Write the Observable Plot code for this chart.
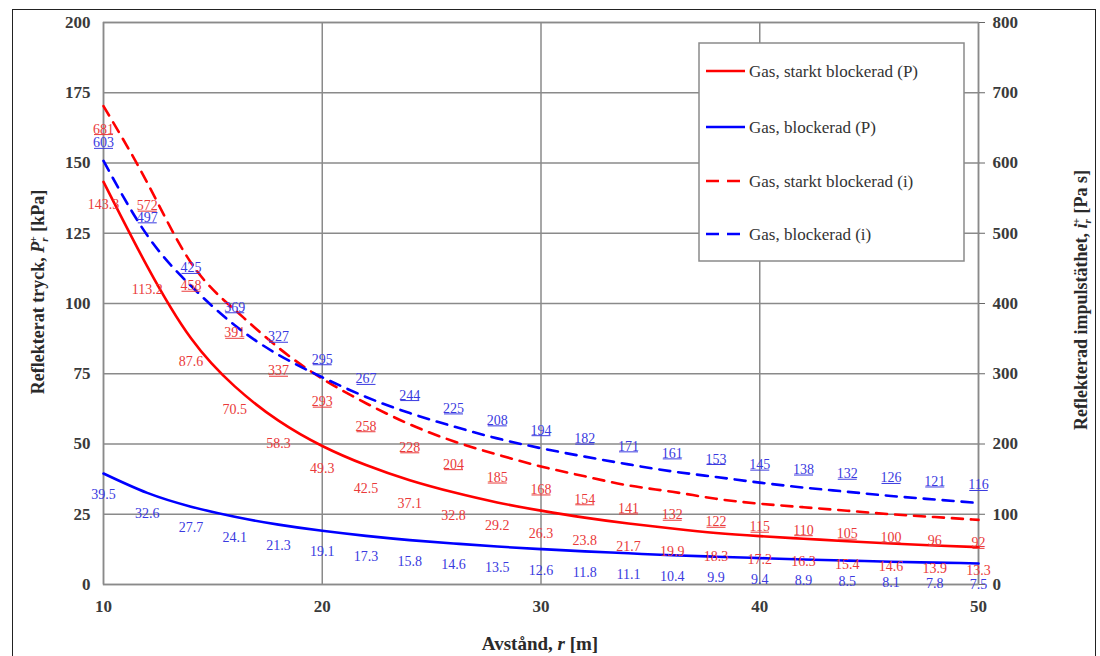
<!DOCTYPE html>
<html>
<head>
<meta charset="utf-8">
<script src="https://cdn.jsdelivr.net/npm/d3@7"></script>
<script src="https://cdn.jsdelivr.net/npm/@observablehq/plot@0.6"></script>
<style>
  html, body { margin: 0; padding: 0; background: #fff; }
  #wrap { position: relative; width: 1100px; height: 656px; overflow: hidden; }
  #border { position: absolute; left: 12px; top: 9px; width: 1084px; height: 660px; border: 1.5px solid #222; box-sizing: border-box; pointer-events: none; }
  svg { position: absolute; left: 0; top: 0; }
  svg text { font-family: 'Liberation Serif', 'Times New Roman', serif !important; }
</style>
</head>
<body>
<div id="wrap"><div id="border"></div></div>
<script>
// Distance r [m]
const distance = [10, 12, 14, 16, 18, 20, 22, 24, 26, 28, 30, 32, 34, 36, 38, 40, 42, 44, 46, 48, 50];
// Reflected pressure [kPa]
const pStrong = [143.3, 113.2, 87.6, 70.5, 58.3, 49.3, 42.5, 37.1, 32.8, 29.2, 26.3, 23.8, 21.7, 19.9, 18.3, 17.2, 16.3, 15.4, 14.6, 13.9, 13.3];
const pBlock  = [39.5, 32.6, 27.7, 24.1, 21.3, 19.1, 17.3, 15.8, 14.6, 13.5, 12.6, 11.8, 11.1, 10.4, 9.9, 9.4, 8.9, 8.5, 8.1, 7.8, 7.5];
// Reflected impulse density [Pa s]
const iStrong = [681, 572, 458, 391, 337, 293, 258, 228, 204, 185, 168, 154, 141, 132, 122, 115, 110, 105, 100, 96, 92];
const iBlock  = [603, 497, 425, 369, 327, 295, 267, 244, 225, 208, 194, 182, 171, 161, 153, 145, 138, 132, 126, 121, 116];
// Axis ticks
const xTicks = [10, 20, 30, 40, 50];
const yLeftTicks = [0, 25, 50, 75, 100, 125, 150, 175, 200];
const yRightTicks = [0, 100, 200, 300, 400, 500, 600, 700, 800];
const legendLabels = ["Gas, starkt blockerad (P)", "Gas, blockerad (P)", "Gas, starkt blockerad (i)", "Gas, blockerad (i)"];

const ratio = 4; // right axis (800) / left axis (200)
const rows = distance.map((r, k) => ({r, pS: pStrong[k], pB: pBlock[k], iS: iStrong[k], iB: iBlock[k]}));

const RED = "#ff0000", BLUE = "#0000ff";
const RED_T = "#ea3a3a", BLUE_T = "#3a3ae0";
const serif = "'Liberation Serif', 'Times New Roman', serif";

const chart = Plot.plot({
  width: 1100,
  height: 656,
  marginLeft: 103,
  marginRight: 122,
  marginTop: 22,
  marginBottom: 72,
  style: {fontFamily: serif, fontSize: "16px", background: "transparent", overflow: "visible"},
  x: {domain: [10, 50]},
  y: {domain: [0, 200]},
  marks: [
    Plot.gridY(yLeftTicks, {stroke: "#8a8a8a", strokeOpacity: 1, strokeWidth: 1.5}),
    Plot.gridX(xTicks, {stroke: "#8a8a8a", strokeOpacity: 1, strokeWidth: 1.5}),
    Plot.frame({stroke: "#8a8a8a", strokeWidth: 1.5}),
    Plot.axisY(yLeftTicks, {anchor: "left", tickSize: 0, tickPadding: 13, label: null, fill: "#3a3a3a", fontWeight: "bold", fontSize: 17}),
    Plot.axisY(yLeftTicks, {anchor: "right", tickSize: 6, tickPadding: 8, label: null, stroke: "#666", fill: "#3a3a3a", fontWeight: "bold", fontSize: 17, tickFormat: (d, k) => String(yRightTicks[k])}),
    Plot.axisX(xTicks, {anchor: "bottom", tickSize: 0, tickPadding: 15, label: null, fill: "#3a3a3a", fontWeight: "bold", fontSize: 17}),
    Plot.line(rows, {x: "r", y: "pS", stroke: RED, strokeWidth: 2.6, curve: "natural"}),
    Plot.line(rows, {x: "r", y: "pB", stroke: BLUE, strokeWidth: 2.6, curve: "natural"}),
    Plot.line(rows, {x: "r", y: d => d.iS / ratio, stroke: RED, strokeWidth: 2.6, strokeDasharray: "11,8", curve: "natural"}),
    Plot.line(rows, {x: "r", y: d => d.iB / ratio, stroke: BLUE, strokeWidth: 2.6, strokeDasharray: "11,8", curve: "natural"}),
    Plot.text(rows, {x: "r", y: "pS", text: d => String(d.pS), dy: 23, fill: RED_T, fontSize: 14}),
    Plot.text(rows, {x: "r", y: "pB", text: d => String(d.pB), dy: 21, fill: BLUE_T, fontSize: 14}),
    Plot.text(rows, {x: "r", y: d => d.iS / ratio, text: d => String(d.iS), dy: 23, fill: RED_T, fontSize: 14}),
    Plot.text(rows, {x: "r", y: d => d.iB / ratio, text: d => String(d.iB), dy: -18, fill: BLUE_T, fontSize: 14})
  ]
});
document.getElementById("wrap").appendChild(chart);

const svg = d3.select(chart);

// Underline the impulse labels (last two text marks)
const textGroups = Array.from(chart.querySelectorAll(":scope > g")).filter(g => g.querySelector("text") && !g.getAttribute("aria-label")?.includes("axis") && !g.getAttribute("aria-label")?.includes("tick"));
const iGroups = textGroups.slice(-2);
iGroups.forEach(g => {
  const col = g.getAttribute("fill");
  g.querySelectorAll("text").forEach(t => {
    const b = t.getBBox();
    const tr = t.getAttribute("transform") || "";
    d3.select(g).append("line")
      .attr("transform", tr)
      .attr("x1", b.x + 1).attr("x2", b.x + b.width - 1)
      .attr("y1", b.y + b.height - 2).attr("y2", b.y + b.height - 2)
      .attr("stroke", col).attr("stroke-width", 1);
  });
});

// Axis titles
const lt = svg.append("text")
  .attr("transform", "translate(44,292) rotate(-90)")
  .attr("text-anchor", "middle").attr("font-weight", "bold").attr("font-size", 18).attr("fill", "#2a2a2a");
lt.append("tspan").text("Reflekterat tryck, ");
lt.append("tspan").attr("font-style", "italic").text("P");
lt.append("tspan").attr("font-style", "italic").attr("font-size", 11).attr("dy", 4).text("r");
lt.append("tspan").attr("font-size", 11).attr("dy", -11).attr("dx", -5).text("+");
lt.append("tspan").attr("dy", 7).text(" [kPa]");

const rt = svg.append("text")
  .attr("transform", "translate(1087,300) rotate(-90)")
  .attr("text-anchor", "middle").attr("font-weight", "bold").attr("font-size", 18).attr("fill", "#2a2a2a");
rt.append("tspan").text("Reflekterad impulstäthet, ");
rt.append("tspan").attr("font-style", "italic").text("i");
rt.append("tspan").attr("font-style", "italic").attr("font-size", 11).attr("dy", 4).text("r");
rt.append("tspan").attr("font-size", 11).attr("dy", -11).attr("dx", -5).text("+");
rt.append("tspan").attr("dy", 7).text(" [Pa s]");

const xt = svg.append("text")
  .attr("x", 540).attr("y", 650)
  .attr("text-anchor", "middle").attr("font-weight", "bold").attr("font-size", 19).attr("fill", "#2a2a2a");
xt.append("tspan").text("Avstånd, ");
xt.append("tspan").attr("font-style", "italic").text("r");
xt.append("tspan").text(" [m]");

// Legend
const lg = svg.append("g").attr("text-anchor", "start");
lg.append("rect").attr("x", 699).attr("y", 43).attr("width", 265).attr("height", 218)
  .attr("fill", "#fff").attr("stroke", "#8a8a8a").attr("stroke-width", 1.5);
const legendStyles = [
  {stroke: RED, dash: null}, {stroke: BLUE, dash: null},
  {stroke: RED, dash: "13,8"}, {stroke: BLUE, dash: "13,8"}
];
const legendY = [71, 127, 181, 234];
legendLabels.forEach((lab, k) => {
  const yy = legendY[k];
  const ln = lg.append("line").attr("x1", 706).attr("x2", 745).attr("y1", yy).attr("y2", yy)
    .attr("stroke", legendStyles[k].stroke).attr("stroke-width", 2.6);
  if (legendStyles[k].dash) ln.attr("stroke-dasharray", legendStyles[k].dash);
  lg.append("text").attr("x", 749).attr("y", yy).attr("dy", "0.35em").attr("text-anchor", "start")
    .attr("font-size", 17).attr("fill", "#333").text(lab);
});
</script>
</body>
</html>
